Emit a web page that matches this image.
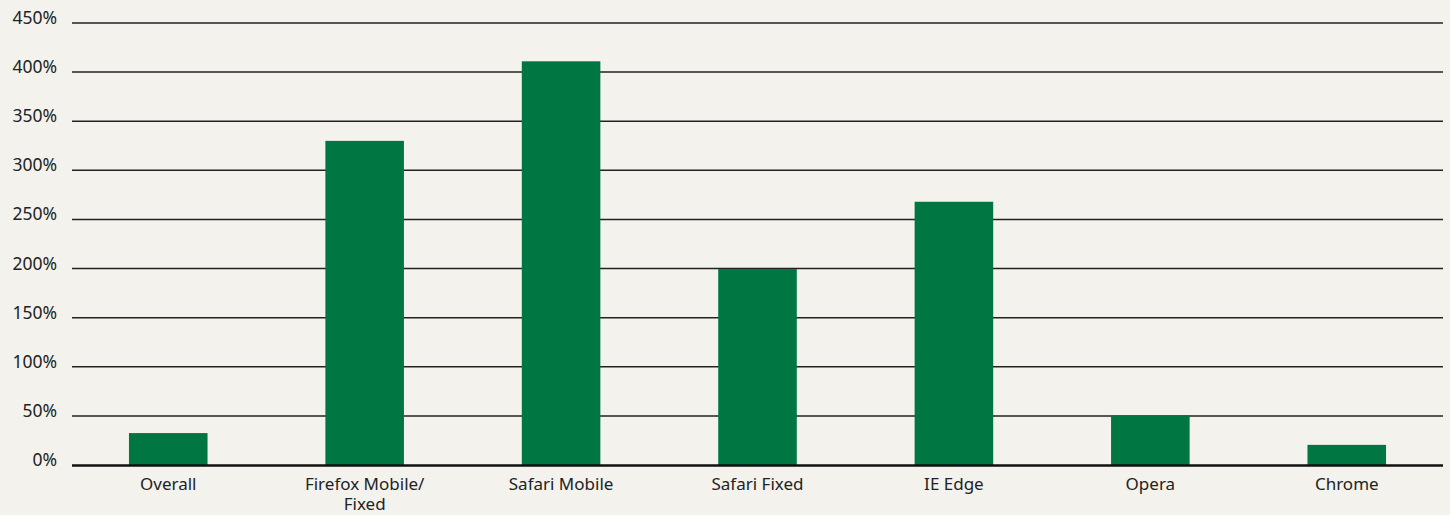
<!DOCTYPE html>
<html>
<head>
<meta charset="utf-8">
<script src="https://cdn.jsdelivr.net/npm/d3@7"></script>
<style>
  html, body { margin: 0; padding: 0; background: #f4f2ed; }
  #chart { width: 1450px; height: 515px; }
  text { font-family: "Noto Sans", "Open Sans", sans-serif; fill: #222; }
</style>
</head>
<body>
<div id="chart"></div>
<script>
/** Chart data */
const categories = ["Overall", "Firefox Mobile/|Fixed", "Safari Mobile", "Safari Fixed", "IE Edge", "Opera", "Chrome"];
const values = [32.5, 330, 411, 199.5, 268, 50.5, 20.5];
const yTicks = [0, 50, 100, 150, 200, 250, 300, 350, 400, 450];

const width = 1450;
const height = 515;
const margin = { top: 23, right: 7, bottom: 50, left: 72 };

const svg = d3
  .select("#chart")
  .append("svg")
  .attr("width", width)
  .attr("height", height);

const x = d3
  .scaleBand()
  .domain(categories)
  .range([margin.left, width - margin.right])
  .paddingInner(0.6)
  .paddingOuter(0.29);

const y = d3
  .scaleLinear()
  .domain([0, 450])
  .range([height - margin.bottom, margin.top]);

/** Gridlines */
svg
  .append("g")
  .selectAll("line")
  .data(yTicks.filter((d) => d > 0))
  .enter()
  .append("line")
  .attr("x1", margin.left)
  .attr("x2", width - margin.right)
  .attr("y1", (d) => y(d))
  .attr("y2", (d) => y(d))
  .style("stroke", "#222")
  .style("stroke-width", 1.5);

/** Y tick labels */
svg
  .append("g")
  .selectAll("text")
  .data(yTicks)
  .enter()
  .append("text")
  .attr("x", 57)
  .attr("y", (d) => y(d) + 1)
  .attr("text-anchor", "end")
  .style("font-size", "17.5px")
  .text((d) => d + "%");

/** Bars */
svg
  .append("g")
  .selectAll("rect")
  .data(values)
  .enter()
  .append("rect")
  .attr("x", (_, i) => x(categories[i]))
  .attr("width", x.bandwidth())
  .attr("y", (d) => y(d))
  .attr("height", (d) => y(0) - y(d))
  .style("fill", "#007642");

/** Baseline */
svg
  .append("line")
  .attr("x1", margin.left)
  .attr("x2", width - margin.right)
  .attr("y1", y(0) + 0.5)
  .attr("y2", y(0) + 0.5)
  .style("stroke", "#111")
  .style("stroke-width", 2.5);

/** X labels (| marks a line break) */
const xl = svg
  .append("g")
  .selectAll("text")
  .data(categories)
  .enter()
  .append("text")
  .attr("text-anchor", "middle")
  .attr("transform", (d) => `translate(${x(d) + x.bandwidth() / 2}, ${y(0) + 25})`)
  .style("font-size", "17px");

xl.selectAll("tspan")
  .data((d) => d.split("|"))
  .enter()
  .append("tspan")
  .attr("x", 0)
  .attr("dy", (_, i) => (i === 0 ? 0 : 20))
  .text((d) => d);
</script>
</body>
</html>
